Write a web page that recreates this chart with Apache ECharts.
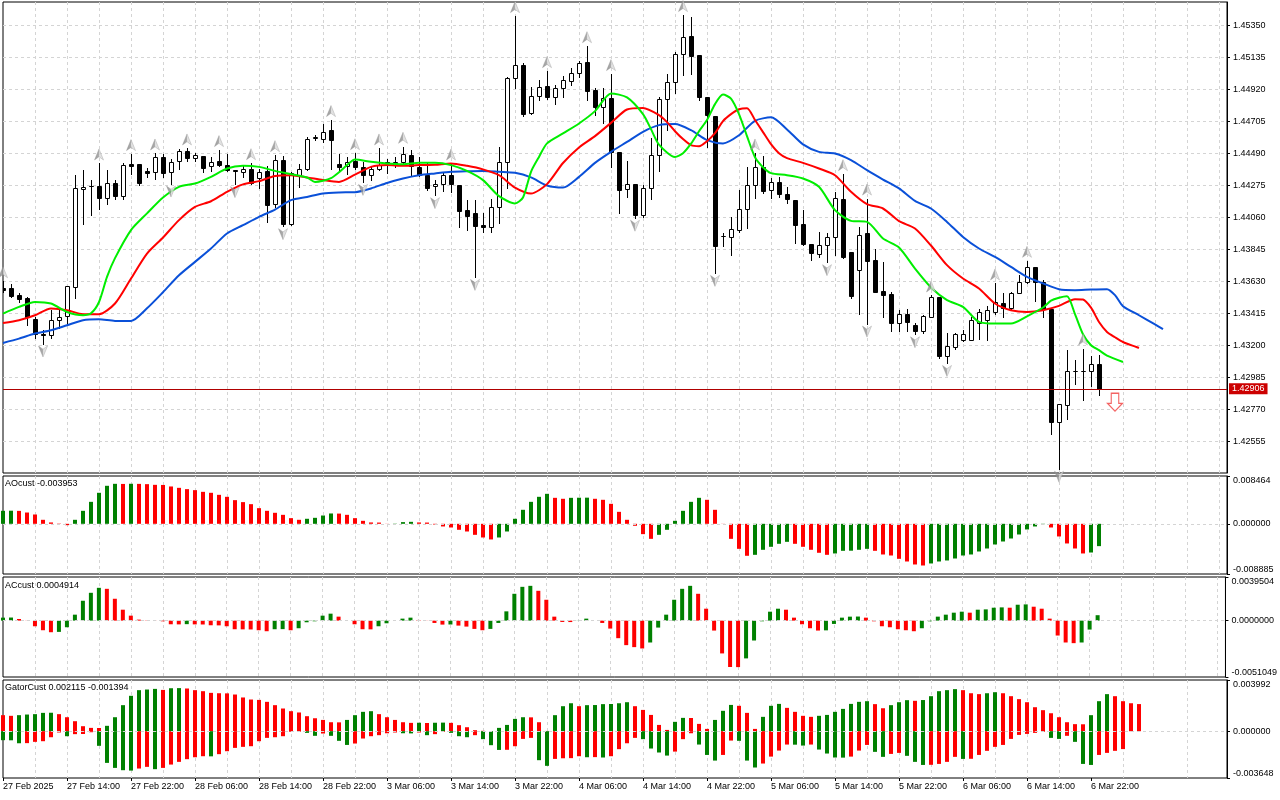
<!DOCTYPE html>
<html>
<head>
<meta charset="utf-8">
<title>EURCHF H1</title>
<script src="https://cdn.jsdelivr.net/npm/echarts@6.0.0/dist/echarts.min.js"></script>
<style>
  html, body { margin: 0; padding: 0; background: #fff; }
  #chart { width: 1280px; height: 800px; }
</style>
</head>
<body>
<div id="chart"></div>
<script>
// hourly bars, bar 0 = 27 Feb 06:00
var timeLabels = ['27 Feb 2025', '27 Feb 14:00', '27 Feb 22:00', '28 Feb 06:00', '28 Feb 14:00', '28 Feb 22:00',
  '3 Mar 06:00', '3 Mar 14:00', '3 Mar 22:00', '4 Mar 06:00', '4 Mar 14:00', '4 Mar 22:00',
  '5 Mar 06:00', '5 Mar 14:00', '5 Mar 22:00', '6 Mar 06:00', '6 Mar 14:00', '6 Mar 22:00'];

var open = [
  1.43586,1.43581,1.43536,1.43518,1.43379,1.43278,1.43266,1.43372,1.43394,1.43592,
  1.44251,1.44268,1.44269,1.44191,1.44289,1.44204,1.44417,1.44417,1.44370,1.44366,
  1.44466,1.44366,1.44436,1.44507,1.44462,1.44470,1.44404,1.44436,1.44413,1.44377,
  1.44366,1.44388,1.44321,1.44370,1.44146,1.44444,1.44018,1.44343,1.44388,1.44590,
  1.44584,1.44646,1.44417,1.44406,1.44436,1.44399,1.44343,1.44388,1.44433,1.44411,
  1.44433,1.44478,1.44399,1.44343,1.44271,1.44281,1.44343,1.44275,1.44108,1.44086,
  1.44005,1.43995,1.44126,1.44433,1.44994,1.45082,1.44763,1.44877,1.44942,1.44870,
  1.44927,1.44978,1.45028,1.45102,1.44915,1.44799,1.44859,1.44500,1.44247,1.44281,
  1.44074,1.44260,1.44478,1.44853,1.44971,1.45156,1.45279,1.45150,1.44870,1.44740,
  1.43933,1.43924,1.43974,1.44119,1.44276,1.44395,1.44243,1.44294,1.44215,1.44175,
  1.44018,1.43879,1.43816,1.43872,1.43928,1.44186,1.43825,1.43705,1.43951,1.43772,
  1.43563,1.43542,1.43349,1.43408,1.43334,1.43295,1.43390,1.43524,1.43130,1.43188,
  1.43236,1.43236,1.43349,1.43368,1.43423,1.43484,1.43453,1.43554,1.43625,1.43723,
  1.43625,1.43446,1.42683,1.42800,1.43025,1.43026,1.43025,1.43070
];
var high = [
  1.43630,1.43610,1.43551,1.43522,1.43390,1.43305,1.43435,1.43446,1.43600,1.44343,
  1.44377,1.44310,1.44422,1.44377,1.44310,1.44422,1.44485,1.44420,1.44390,1.44489,
  1.44485,1.44449,1.44516,1.44523,1.44493,1.44471,1.44466,1.44512,1.44485,1.44378,
  1.44411,1.44424,1.44388,1.44404,1.44478,1.44470,1.44366,1.44417,1.44601,1.44612,
  1.44687,1.44714,1.44485,1.44466,1.44491,1.44433,1.44399,1.44523,1.44449,1.44466,
  1.44534,1.44512,1.44466,1.44422,1.44310,1.44355,1.44422,1.44276,1.44175,1.44175,
  1.44086,1.44186,1.44534,1.45001,1.45413,1.45095,1.44934,1.44983,1.45043,1.44949,
  1.45010,1.45061,1.45110,1.45211,1.44927,1.44927,1.45023,1.44502,1.44440,1.44283,
  1.44276,1.44590,1.44870,1.45023,1.45173,1.45420,1.45407,1.45151,1.44871,1.44741,
  1.43951,1.44063,1.44243,1.44399,1.44489,1.44471,1.44321,1.44332,1.44265,1.44176,
  1.44112,1.43880,1.43962,1.43955,1.44231,1.44350,1.43826,1.43995,1.44186,1.43850,
  1.43760,1.43558,1.43435,1.43446,1.43349,1.43401,1.43534,1.43525,1.43282,1.43282,
  1.43305,1.43390,1.43446,1.43462,1.43615,1.43551,1.43557,1.43671,1.43767,1.43726,
  1.43637,1.43447,1.42807,1.43166,1.43103,1.43177,1.43130,1.43131
];
var low = [
  1.43556,1.43524,1.43491,1.43334,1.43251,1.43211,1.43251,1.43312,1.43345,1.43518,
  1.44018,1.44074,1.44119,1.44148,1.44182,1.44182,1.44348,1.44276,1.44332,1.44316,
  1.44328,1.44287,1.44388,1.44440,1.44440,1.44366,1.44372,1.44404,1.44372,1.44283,
  1.44332,1.44287,1.44254,1.44029,1.44130,1.44000,1.44005,1.44265,1.44377,1.44579,
  1.44567,1.44388,1.44372,1.44350,1.44388,1.44298,1.44310,1.44377,1.44355,1.44399,
  1.44422,1.44343,1.44337,1.44243,1.44209,1.44238,1.44231,1.43995,1.43974,1.43659,
  1.43962,1.43962,1.44023,1.44254,1.44927,1.44740,1.44758,1.44848,1.44853,1.44821,
  1.44870,1.44949,1.45005,1.44848,1.44747,1.44693,1.44399,1.44090,1.44197,1.44057,
  1.44062,1.44186,1.44372,1.44646,1.44893,1.45016,1.45023,1.44848,1.44534,1.43686,
  1.43865,1.43805,1.43962,1.43991,1.44193,1.44224,1.44193,1.44197,1.44157,1.43888,
  1.43872,1.43772,1.43792,1.43758,1.43805,1.43787,1.43518,1.43412,1.43345,1.43556,
  1.43390,1.43295,1.43295,1.43295,1.43273,1.43282,1.43386,1.43116,1.43080,1.43177,
  1.43228,1.43234,1.43244,1.43236,1.43412,1.43390,1.43435,1.43551,1.43615,1.43497,
  1.43390,1.42605,1.42369,1.42701,1.42941,1.42830,1.42923,1.42863
];
var close = [
  1.43573,1.43529,1.43511,1.43390,1.43278,1.43266,1.43372,1.43390,1.43596,1.44254,
  1.44265,1.44270,1.44191,1.44289,1.44204,1.44411,1.44406,1.44291,1.44359,1.44466,
  1.44359,1.44433,1.44507,1.44460,1.44478,1.44392,1.44433,1.44409,1.44377,1.44368,
  1.44388,1.44291,1.44366,1.44141,1.44444,1.44018,1.44355,1.44388,1.44584,1.44601,
  1.44635,1.44579,1.44399,1.44433,1.44399,1.44343,1.44388,1.44411,1.44422,1.44433,
  1.44485,1.44404,1.44343,1.44254,1.44285,1.44343,1.44283,1.44103,1.44069,1.44000,
  1.43995,1.44126,1.44433,1.44994,1.45082,1.44754,1.44877,1.44934,1.44866,1.44927,
  1.44983,1.45028,1.45095,1.44911,1.44799,1.44859,1.44500,1.44243,1.44283,1.44074,
  1.44260,1.44478,1.44853,1.44971,1.45156,1.45274,1.45144,1.44870,1.44747,1.43865,
  1.43935,1.43978,1.44119,1.44276,1.44395,1.44238,1.44294,1.44215,1.44180,1.44011,
  1.43877,1.43820,1.43872,1.43928,1.44193,1.43792,1.43529,1.43940,1.43767,1.43558,
  1.43540,1.43349,1.43408,1.43356,1.43294,1.43394,1.43524,1.43130,1.43192,1.43273,
  1.43273,1.43368,1.43423,1.43435,1.43491,1.43453,1.43554,1.43625,1.43723,1.43625,
  1.43446,1.42683,1.42806,1.43025,1.43026,1.43025,1.43070,1.42906
];

// alligator lines, [bar, price]
var jaw = [[0,1.43215],[2,1.43244],[4,1.43278],[6,1.43300],[8,1.43334],[10,1.43368],[12,1.43374],[14,1.43363],[16,1.43363],[18,1.43448],
  [20,1.43556],[22,1.43670],[24,1.43760],[26,1.43850],[28,1.43951],[30,1.44007],[32,1.44063],[34,1.44112],[36,1.44175],[38,1.44197],
  [40,1.44220],[42,1.44227],[44,1.44229],[46,1.44254],[48,1.44291],[50,1.44321],[52,1.44343],[54,1.44355],[56,1.44366],[58,1.44370],
  [60,1.44372],[62,1.44366],[64,1.44359],[66,1.44328],[68,1.44274],[70,1.44260],[72,1.44332],[74,1.44426],[76,1.44500],[78,1.44567],
  [80,1.44635],[82,1.44680],[84,1.44687],[86,1.44646],[88,1.44579],[90,1.44557],[92,1.44612],[94,1.44709],[96,1.44732],[98,1.44651],
  [100,1.44550],[102,1.44500],[104,1.44489],[106,1.44445],[108,1.44377],[110,1.44314],[112,1.44254],[114,1.44170],[116,1.44119],[118,1.44029],
  [120,1.43928],[122,1.43850],[124,1.43793],[126,1.43726],[128,1.43659],[130,1.43615],[132,1.43576],[134,1.43570],[136,1.43574],[138,1.43576],
  [139,1.43536],[140,1.43462],[142,1.43401],[144,1.43339],[145,1.43307]];
var teeth = [[0,1.43349],[2,1.43368],[4,1.43401],[6,1.43446],[8,1.43435],[10,1.43408],[12,1.43408],[14,1.43480],[16,1.43648],[18,1.43816],
  [20,1.43924],[22,1.44041],[24,1.44130],[26,1.44168],[28,1.44231],[30,1.44281],[32,1.44303],[34,1.44337],[36,1.44343],[38,1.44328],
  [40,1.44310],[42,1.44298],[44,1.44347],[46,1.44399],[48,1.44411],[50,1.44406],[52,1.44411],[54,1.44413],[56,1.44422],[58,1.44406],
  [60,1.44382],[62,1.44343],[64,1.44260],[66,1.44220],[68,1.44283],[70,1.44425],[72,1.44530],[74,1.44606],[76,1.44695],[78,1.44785],
  [80,1.44795],[82,1.44747],[83,1.44700],[84,1.44639],[85,1.44586],[86,1.44545],[87,1.44538],[88,1.44572],[89,1.44626],[90,1.44707],
  [91,1.44754],[92,1.44787],[93,1.44794],[94,1.44714],[95,1.44633],[96,1.44552],[97,1.44491],[98,1.44458],[100,1.44426],[102,1.44388],
  [104,1.44343],[106,1.44231],[108,1.44148],[110,1.44119],[112,1.44034],[114,1.43985],[116,1.43870],[118,1.43738],[120,1.43648],[122,1.43581],
  [124,1.43480],[126,1.43435],[128,1.43423],[130,1.43435],[132,1.43464],[134,1.43509],[135,1.43507],[136,1.43452],[137,1.43356],[138,1.43289],
  [139,1.43253],[140,1.43221],[142,1.43181]];
var lips = [[0,1.43412],[2,1.43457],[4,1.43491],[6,1.43480],[8,1.43423],[10,1.43401],[11,1.43414],[12,1.43490],[13,1.43659],[14,1.43785],
  [16,1.43974],[18,1.44086],[20,1.44193],[22,1.44265],[24,1.44287],[26,1.44332],[28,1.44388],[30,1.44406],[32,1.44399],[34,1.44372],
  [36,1.44350],[38,1.44328],[39,1.44298],[40,1.44306],[41,1.44323],[42,1.44363],[43,1.44411],[44,1.44448],[46,1.44433],[48,1.44422],
  [50,1.44417],[52,1.44426],[54,1.44426],[56,1.44411],[58,1.44372],[60,1.44310],[62,1.44202],[64,1.44153],[65,1.44193],[66,1.44366],
  [67,1.44466],[68,1.44557],[70,1.44624],[72,1.44691],[74,1.44774],[76,1.44893],[78,1.44866],[80,1.44754],[81,1.44653],[82,1.44549],
  [84,1.44466],[85,1.44491],[86,1.44555],[87,1.44639],[88,1.44714],[89,1.44821],[90,1.44885],[91,1.44858],[92,1.44754],[93,1.44606],
  [94,1.44464],[95,1.44397],[96,1.44357],[98,1.44343],[100,1.44321],[102,1.44265],[104,1.44108],[106,1.44036],[108,1.44029],[110,1.43917],
  [112,1.43857],[114,1.43715],[116,1.43588],[118,1.43503],[120,1.43457],[122,1.43356],[124,1.43345],[126,1.43345],[128,1.43394],[130,1.43453],
  [131,1.43499],[132,1.43519],[133,1.43529],[134,1.43408],[135,1.43273],[136,1.43199],[137,1.43166],[138,1.43130],[140,1.43087]];

// fractal bars
var fractalUp = [0,12,16,19,23,27,31,34,41,44,47,50,56,64,68,73,76,85,94,105,108,116,124,128,135];
var fractalDown = [5,21,29,35,45,54,59,79,89,103,108,114,118,132];
// sell signal arrow [bar, price]
var signal = [[139, 1.42816]];

var ao = [
  0.00230,0.00232,0.00229,0.00200,0.00165,0.00071,0.00024,0.00005,-0.00024,0.00071,
  0.00230,0.00389,0.00549,0.00673,0.00708,0.00706,0.00709,0.00707,0.00702,0.00690,
  0.00688,0.00661,0.00637,0.00614,0.00596,0.00566,0.00549,0.00513,0.00478,0.00419,
  0.00384,0.00348,0.00277,0.00230,0.00195,0.00159,0.00100,0.00071,0.00089,0.00106,
  0.00147,0.00183,0.00181,0.00159,0.00100,0.00053,0.00024,0.00022,0.00002,0.00004,
  0.00030,0.00035,0.00024,0.00022,-0.00012,-0.00047,-0.00065,-0.00106,-0.00136,-0.00195,
  -0.00242,-0.00277,-0.00242,-0.00136,0.00089,0.00248,0.00389,0.00478,0.00531,0.00460,
  0.00443,0.00460,0.00462,0.00463,0.00443,0.00425,0.00354,0.00212,0.00071,-0.00035,
  -0.00183,-0.00266,-0.00195,-0.00106,0.00053,0.00230,0.00389,0.00460,0.00425,0.00248,
  -0.00002,-0.00266,-0.00443,-0.00566,-0.00549,-0.00460,-0.00407,-0.00354,-0.00319,-0.00354,
  -0.00407,-0.00460,-0.00513,-0.00549,-0.00525,-0.00478,-0.00476,-0.00460,-0.00443,-0.00478,
  -0.00543,-0.00561,-0.00620,-0.00667,-0.00720,-0.00738,-0.00702,-0.00667,-0.00649,-0.00614,
  -0.00561,-0.00543,-0.00490,-0.00437,-0.00366,-0.00313,-0.00260,-0.00189,-0.00100,-0.00047,
  -0.00006,-0.00065,-0.00224,-0.00348,-0.00437,-0.00525,-0.00508,-0.003953
];
var ac = [
  0.00027,0.00028,0.00015,-0.00001,-0.00051,-0.00087,-0.00105,-0.00102,-0.00060,0.00054,
  0.00180,0.00252,0.00297,0.00288,0.00198,0.00099,0.00045,0.00009,0.00002,0.00001,
  -0.00006,-0.00033,-0.00034,-0.00032,-0.00034,-0.00035,-0.00042,-0.00043,-0.00051,-0.00078,
  -0.00079,-0.00080,-0.00087,-0.00096,-0.00078,-0.00077,-0.00087,-0.00069,-0.00015,-0.00006,
  0.00045,0.00063,0.00036,0.00000,-0.00033,-0.00078,-0.00079,-0.00051,-0.00024,0.00000,
  0.00018,0.00027,0.00006,0.00001,-0.00021,-0.00036,-0.00035,-0.00045,-0.00054,-0.00075,
  -0.00087,-0.00075,-0.00021,0.00084,0.00243,0.00306,0.00315,0.00270,0.00189,0.00036,
  -0.00012,-0.00013,0.00001,0.00018,0.00000,-0.00021,-0.00072,-0.00159,-0.00222,-0.00240,
  -0.00252,-0.00198,-0.00063,0.00054,0.00189,0.00288,0.00315,0.00243,0.00108,-0.00090,
  -0.00297,-0.00420,-0.00421,-0.00342,-0.00180,-0.00006,0.00081,0.00108,0.00099,0.00027,
  -0.00033,-0.00069,-0.00090,-0.00088,-0.00030,0.00027,0.00036,0.00037,0.00027,-0.00006,
  -0.00051,-0.00060,-0.00078,-0.00087,-0.00096,-0.00069,-0.00006,0.00036,0.00054,0.00072,
  0.00081,0.00072,0.00099,0.00102,0.00117,0.00120,0.00117,0.00144,0.00147,0.00126,
  0.00108,0.00018,-0.00135,-0.00198,-0.00204,-0.00198,-0.00081,0.0004914
];
var gatorUp = [
  0.00125,0.00120,0.00125,0.00130,0.00133,0.00143,0.00144,0.00133,0.00109,0.00078,
  0.00039,0.00026,0.00025,0.00042,0.00109,0.00203,0.00276,0.00320,0.00325,0.00330,
  0.00322,0.00335,0.00336,0.00333,0.00320,0.00312,0.00299,0.00296,0.00295,0.00286,
  0.00263,0.00247,0.00244,0.00229,0.00203,0.00177,0.00156,0.00146,0.00117,0.00101,
  0.00088,0.00070,0.00069,0.00088,0.00125,0.00151,0.00156,0.00133,0.00109,0.00088,
  0.00070,0.00065,0.00066,0.00064,0.00066,0.00067,0.00065,0.00047,0.00031,0.00008,
  0.00003,0.00001,0.00026,0.00049,0.00096,0.00109,0.00108,0.00070,0.00002,0.00125,
  0.00195,0.00218,0.00195,0.00203,0.00204,0.00211,0.00212,0.00218,0.00226,0.00195,
  0.00166,0.00127,0.00049,0.00010,0.00073,0.00104,0.00103,0.00057,0.00018,0.00088,
  0.00159,0.00205,0.00198,0.00143,0.00018,0.00112,0.00198,0.00213,0.00182,0.00151,
  0.00120,0.00112,0.00120,0.00127,0.00151,0.00174,0.00213,0.00229,0.00234,0.00211,
  0.00179,0.00203,0.00226,0.00242,0.00237,0.00243,0.00273,0.00312,0.00320,0.00328,
  0.00320,0.00296,0.00289,0.00296,0.00304,0.00296,0.00273,0.00250,0.00226,0.00187,
  0.00164,0.00140,0.00109,0.00070,0.00055,0.00054,0.00125,0.00234,0.00289,0.00273,
  0.00234,0.00218,0.002115
];
var gatorDown = [
  -0.00070,-0.00071,-0.00094,-0.00093,-0.00083,-0.00078,-0.00047,-0.00010,-0.00039,-0.00023,
  -0.00022,-0.00008,-0.00114,-0.00247,-0.00286,-0.00304,-0.00307,-0.00291,-0.00278,-0.00296,
  -0.00286,-0.00260,-0.00239,-0.00218,-0.00203,-0.00195,-0.00196,-0.00179,-0.00156,-0.00130,
  -0.00122,-0.00117,-0.00078,-0.00052,-0.00047,-0.00039,-0.00005,-0.00004,-0.00013,-0.00036,
  -0.00018,-0.00036,-0.00075,-0.00107,-0.00096,-0.00057,-0.00039,-0.00031,-0.00016,-0.00010,
  -0.00016,-0.00017,-0.00010,-0.00031,-0.00023,-0.00005,-0.00013,-0.00039,-0.00047,-0.00031,
  -0.00062,-0.00109,-0.00146,-0.00145,-0.00117,-0.00060,-0.00052,-0.00226,-0.00270,-0.00216,
  -0.00211,-0.00210,-0.00195,-0.00203,-0.00202,-0.00205,-0.00195,-0.00140,-0.00094,-0.00052,
  -0.00062,-0.00135,-0.00166,-0.00190,-0.00159,-0.00062,-0.00016,-0.00104,-0.00185,-0.00229,
  -0.00185,-0.00073,-0.00075,-0.00229,-0.00283,-0.00252,-0.00198,-0.00151,-0.00104,-0.00105,
  -0.00112,-0.00104,-0.00143,-0.00174,-0.00205,-0.00206,-0.00198,-0.00151,-0.00107,-0.00161,
  -0.00200,-0.00177,-0.00169,-0.00192,-0.00239,-0.00263,-0.00262,-0.00255,-0.00239,-0.00200,
  -0.00216,-0.00215,-0.00185,-0.00153,-0.00122,-0.00107,-0.00060,-0.00029,-0.00021,-0.00013,
  -0.00005,-0.00052,-0.00060,-0.00036,-0.00083,-0.00255,-0.00263,-0.00185,-0.00169,-0.00153,
  -0.001394
];

// axis ranges of the four panes
var priceMin = 1.42340, priceMax = 1.45508, priceStep = 0.00215;
var aoRange = [-0.008885, 0.008464];
var acRange = [-0.0051049, 0.0039504];
var gatorRange = [-0.003648, 0.003992];

var FONT = 'Liberation Sans';
var GREEN = '#008000', RED = '#ff0000';
var GRID = '#d4d4d4';
var BARS = 153;

function trendColors(values, first, grows) {
  return values.map(function (v, i) {
    if (i === 0) return first;
    return grows(v, values[i - 1]) ? GREEN : RED;
  });
}
var up = function (v, p) { return v > p; };
var aoColor = trendColors(ao, GREEN, up);
var acColor = trendColors(ac, GREEN, up);
var gUpColor = trendColors(gatorUp, RED, up);
var gDownColor = trendColors(gatorDown, GREEN, function (v, p) { return Math.abs(v) > Math.abs(p); });

var candles = open.map(function (o, i) { return [i, o, high[i], low[i], close[i]]; });
var labelBars = timeLabels.map(function (t, k) { return k * 8; });

var chart = echarts.init(document.getElementById('chart'), null, { renderer: 'canvas' });

var textBase = { color: '#000', fontSize: 9, fontFamily: FONT };
var dashed = { color: GRID, type: [3, 3], width: 1 };

function makeX(idx, withLabels) {
  return {
    type: 'value', gridIndex: idx, min: 0, max: BARS, interval: 8,
    axisLine: { show: false, onZero: false },
    axisTick: withLabels ? { show: true, length: 3, customValues: labelBars, lineStyle: { color: '#000' } } : { show: false },
    axisLabel: withLabels ? Object.assign({
      show: true, customValues: labelBars, align: 'left', margin: 4,
      formatter: function (v) { return timeLabels[Math.round(v / 8)] || ''; }
    }, textBase) : { show: false },
    splitLine: { show: true, showMinLine: false, showMaxLine: false, lineStyle: dashed },
    minorTick: { show: false, splitNumber: 2 },
    minorSplitLine: { show: true, lineStyle: dashed }
  };
}

function paneY(idx, range, digits) {
  var lo = range[0], hi = range[1];
  return {
    type: 'value', gridIndex: idx, position: 'right', min: lo, max: hi,
    axisLine: { show: true, onZero: false, lineStyle: { color: '#000' } },
    axisTick: { show: true, length: 3, customValues: [lo, 0, hi], lineStyle: { color: '#000' } },
    axisLabel: Object.assign({
      customValues: [lo, 0, hi], margin: 6,
      formatter: function (v) {
        var s = v.toFixed(digits);
        if (v === hi) return '{t|' + s + '}';
        if (v === lo) return '{b|' + s + '}';
        return s;
      },
      rich: {
        t: Object.assign({ padding: [9, 0, 0, 0] }, textBase),
        b: Object.assign({ padding: [0, 0, 9, 0] }, textBase)
      }
    }, textBase),
    splitLine: { show: false }
  };
}

var zeroLine = {
  silent: true, symbol: ['none', 'none'], animation: false, precision: 6,
  label: { show: false },
  lineStyle: dashed,
  data: [{ yAxis: 0 }]
};

// Wingdings-like fractal arrowheads: darker left half, light right half
var fractalFill = new echarts.graphic.LinearGradient(0, 0, 1, 0, [
  { offset: 0, color: '#7c7c7c' }, { offset: 0.5, color: '#9a9a9a' },
  { offset: 0.5, color: '#d6d6d6' }, { offset: 1, color: '#e4e4e4' }
]);

function histogram(name, values, colors, xi, yi, extra) {
  return Object.assign({
    name: name, type: 'bar', xAxisIndex: xi, yAxisIndex: yi, barWidth: 4,
    data: values.map(function (v, i) { return [i, v]; }),
    itemStyle: { color: function (p) { return colors[p.dataIndex]; } },
    silent: true
  }, extra || {});
}

var titleStyle = Object.assign({ fontWeight: 'normal' }, textBase);

var option = {
  animation: false,
  backgroundColor: '#fff',
  title: [
    { text: 'AOcust ' + ao[ao.length - 1].toFixed(6), left: 5, top: 479, padding: 0, textStyle: titleStyle },
    { text: 'ACcust ' + ac[ac.length - 1].toFixed(7), left: 5, top: 581, padding: 0, textStyle: titleStyle },
    { text: 'GatorCust ' + gatorUp[gatorUp.length - 1].toFixed(6) + ' ' + gatorDown[gatorDown.length - 1].toFixed(6),
      left: 5, top: 683, padding: 0, textStyle: titleStyle }
  ],
  grid: [
    { left: 3, top: 2, width: 1224, height: 471 },
    { left: 3, top: 476, width: 1224, height: 98 },
    { left: 3, top: 577, width: 1224, height: 100 },
    { left: 3, top: 680, width: 1224, height: 98 }
  ].map(function (g) {
    return Object.assign({ show: true, borderColor: '#000', borderWidth: 1, backgroundColor: '#fff' }, g);
  }),
  xAxis: [makeX(0, false), makeX(1, false), makeX(2, false), makeX(3, true)],
  yAxis: [
    {
      type: 'value', gridIndex: 0, position: 'right', min: priceMin, max: priceMax, interval: priceStep,
      axisLine: { show: true, onZero: false, lineStyle: { color: '#000' } },
      axisTick: { show: true, length: 3, lineStyle: { color: '#000' } },
      axisLabel: Object.assign({
        showMinLabel: false, showMaxLabel: false, margin: 6,
        formatter: function (v) { return v.toFixed(5); }
      }, textBase),
      splitLine: { show: true, showMinLine: false, showMaxLine: false, lineStyle: dashed }
    },
    paneY(1, aoRange, 6),
    paneY(2, acRange, 7),
    paneY(3, gatorRange, 6)
  ],
  series: [
    {
      name: 'price', type: 'custom', xAxisIndex: 0, yAxisIndex: 0, clip: true, z: 2,
      data: candles,
      encode: { x: 0, y: [1, 2, 3, 4] },
      renderItem: function (params, api) {
        var i = api.value(0);
        var o = api.value(1), c = api.value(4);
        var pO = api.coord([i, o]), pH = api.coord([i, api.value(2)]);
        var pL = api.coord([i, api.value(3)]), pC = api.coord([i, c]);
        var x = Math.round(pO[0]) + 0.5;
        var top = Math.round(Math.min(pO[1], pC[1])) + 0.5;
        var bot = Math.round(Math.max(pO[1], pC[1])) + 0.5;
        return {
          type: 'group',
          children: [
            { type: 'line', shape: { x1: x, y1: Math.round(pH[1]), x2: x, y2: Math.round(pL[1]) + 1 },
              style: { stroke: '#000', lineWidth: 1 } },
            { type: 'rect', shape: { x: x - 2, y: top, width: 4, height: bot - top },
              style: { fill: c >= o ? '#fff' : '#000', stroke: '#000', lineWidth: 1 } }
          ]
        };
      },
      markLine: {
        silent: true, symbol: ['none', 'none'], animation: false, precision: 5,
        lineStyle: { color: '#b00000', width: 1, type: 'solid' },
        label: Object.assign({
          position: 'end', distance: 2, formatter: function (p) { return Number(p.value).toFixed(5); },
          backgroundColor: '#cc0000', padding: [1, 3, 0, 3], lineHeight: 10
        }, textBase, { color: '#fff' }),
        data: [{ yAxis: close[close.length - 1] }]
      }
    },
    { name: 'jaw', type: 'line', xAxisIndex: 0, yAxisIndex: 0, data: jaw, showSymbol: false, smooth: 0.25, z: 3,
      lineStyle: { color: '#0a50d8', width: 2 }, silent: true },
    { name: 'teeth', type: 'line', xAxisIndex: 0, yAxisIndex: 0, data: teeth, showSymbol: false, smooth: 0.25, z: 3,
      lineStyle: { color: '#ff0000', width: 2 }, silent: true },
    { name: 'lips', type: 'line', xAxisIndex: 0, yAxisIndex: 0, data: lips, showSymbol: false, smooth: 0.25, z: 3,
      lineStyle: { color: '#00ee00', width: 2 }, silent: true },
    { name: 'fractal up', type: 'scatter', xAxisIndex: 0, yAxisIndex: 0, z: 4, silent: true,
      data: fractalUp.map(function (i) { return [i, high[i]]; }),
      symbol: 'path://M5,0 L10,12 L5,8.5 L0,12 Z', symbolSize: [9, 11], symbolOffset: [0, -9],
      itemStyle: { color: fractalFill, borderColor: '#999', borderWidth: 0.5 } },
    { name: 'fractal down', type: 'scatter', xAxisIndex: 0, yAxisIndex: 0, z: 4, silent: true,
      data: fractalDown.map(function (i) { return [i, low[i]]; }),
      symbol: 'path://M0,0 L5,3.5 L10,0 L5,12 Z', symbolSize: [9, 11], symbolOffset: [0, 8],
      itemStyle: { color: fractalFill, borderColor: '#999', borderWidth: 0.5 } },
    { name: 'signal', type: 'scatter', xAxisIndex: 0, yAxisIndex: 0, z: 5, silent: true, data: signal,
      symbol: 'path://M3,0 L9,0 L9,9 L12,9 L6,16 L0,9 L3,9 Z', symbolSize: [15, 18],
      itemStyle: { color: '#fff', borderColor: '#f03c3c', borderWidth: 1.2 } },
    histogram('AO', ao, aoColor, 1, 1, { markLine: zeroLine }),
    histogram('AC', ac, acColor, 2, 2, { markLine: zeroLine }),
    histogram('Gator up', gatorUp, gUpColor, 3, 3, { barGap: '-100%', markLine: zeroLine }),
    histogram('Gator down', gatorDown, gDownColor, 3, 3, { barGap: '-100%' })
  ]
};

chart.setOption(option);
window.addEventListener('resize', chart.resize);
</script>
</body>
</html>
